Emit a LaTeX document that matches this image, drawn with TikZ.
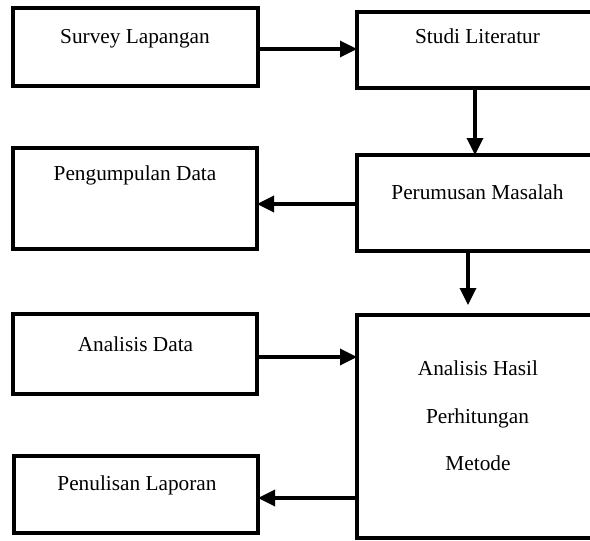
\documentclass[tikz,border=0pt]{standalone}
\usepackage{fontspec}
\setmainfont{Liberation Serif}
\usetikzlibrary{arrows.meta}
\begin{document}
\begin{tikzpicture}[x=1pt,y=-1pt,
  box/.style={draw, line width=3.4pt, inner sep=0pt, outer sep=0pt, anchor=north west},
  lbl/.style={anchor=base, inner sep=0pt, font=\fontsize{21.3}{25}\selectfont},
  arr/.style={line width=3.4pt, -{Triangle[length=17pt,width=16pt]}}]
\clip (0,0) rectangle (590,541);
% boxes
\node[box, minimum width=245pt, minimum height=78pt]  (b1) at (13,8) {};
\node[box, minimum width=250pt, minimum height=76pt]  (b2) at (357,12) {};
\node[box, minimum width=244pt, minimum height=101pt] (b3) at (13,148) {};
\node[box, minimum width=250pt, minimum height=96pt]  (b4) at (357,155) {};
\node[box, minimum width=244pt, minimum height=80pt]  (b5) at (13,314) {};
\node[box, minimum width=250pt, minimum height=223pt] (b6) at (357,315) {};
\node[box, minimum width=244pt, minimum height=77pt]  (b7) at (14,456) {};
% labels
\node[lbl] (t1) at (135,43) {Survey Lapangan};
\node[lbl] (t2) at (477.5,43) {Studi Literatur};
\node[lbl] (t3) at (135,180) {Pengumpulan Data};
\node[lbl] (t4) at (477.5,199) {Perumusan Masalah};
\node[lbl] (t5) at (135.5,351.5) {Analisis Data};
\node[lbl] (t6a) at (478,375) {Analisis Hasil};
\node[lbl] (t6b) at (477.5,423) {Perhitungan};
\node[lbl] (t6c) at (478,470.5) {Metode};
\node[lbl] (t7) at (137,490) {Penulisan Laporan};
% connector levels
\coordinate (y1) at (0,49);
\coordinate (y3) at (0,204);
\coordinate (y5) at (0,357);
\coordinate (y6) at (0,498);
\coordinate (x2) at (475,0);
\coordinate (x4) at (468,0);
\coordinate (e4) at (468,305);
% connectors
\draw[arr] (b1.east |- y1) -- (b2.west |- y1);
\draw[arr] (b2.south -| x2) -- (b4.north -| x2);
\draw[arr] (b4.west |- y3) -- (b3.east |- y3);
\draw[arr] (b4.south -| x4) -- (e4);
\draw[arr] (b5.east |- y5) -- (b6.west |- y5);
\draw[arr] (b6.west |- y6) -- (b7.east |- y6);
\end{tikzpicture}
\end{document}
